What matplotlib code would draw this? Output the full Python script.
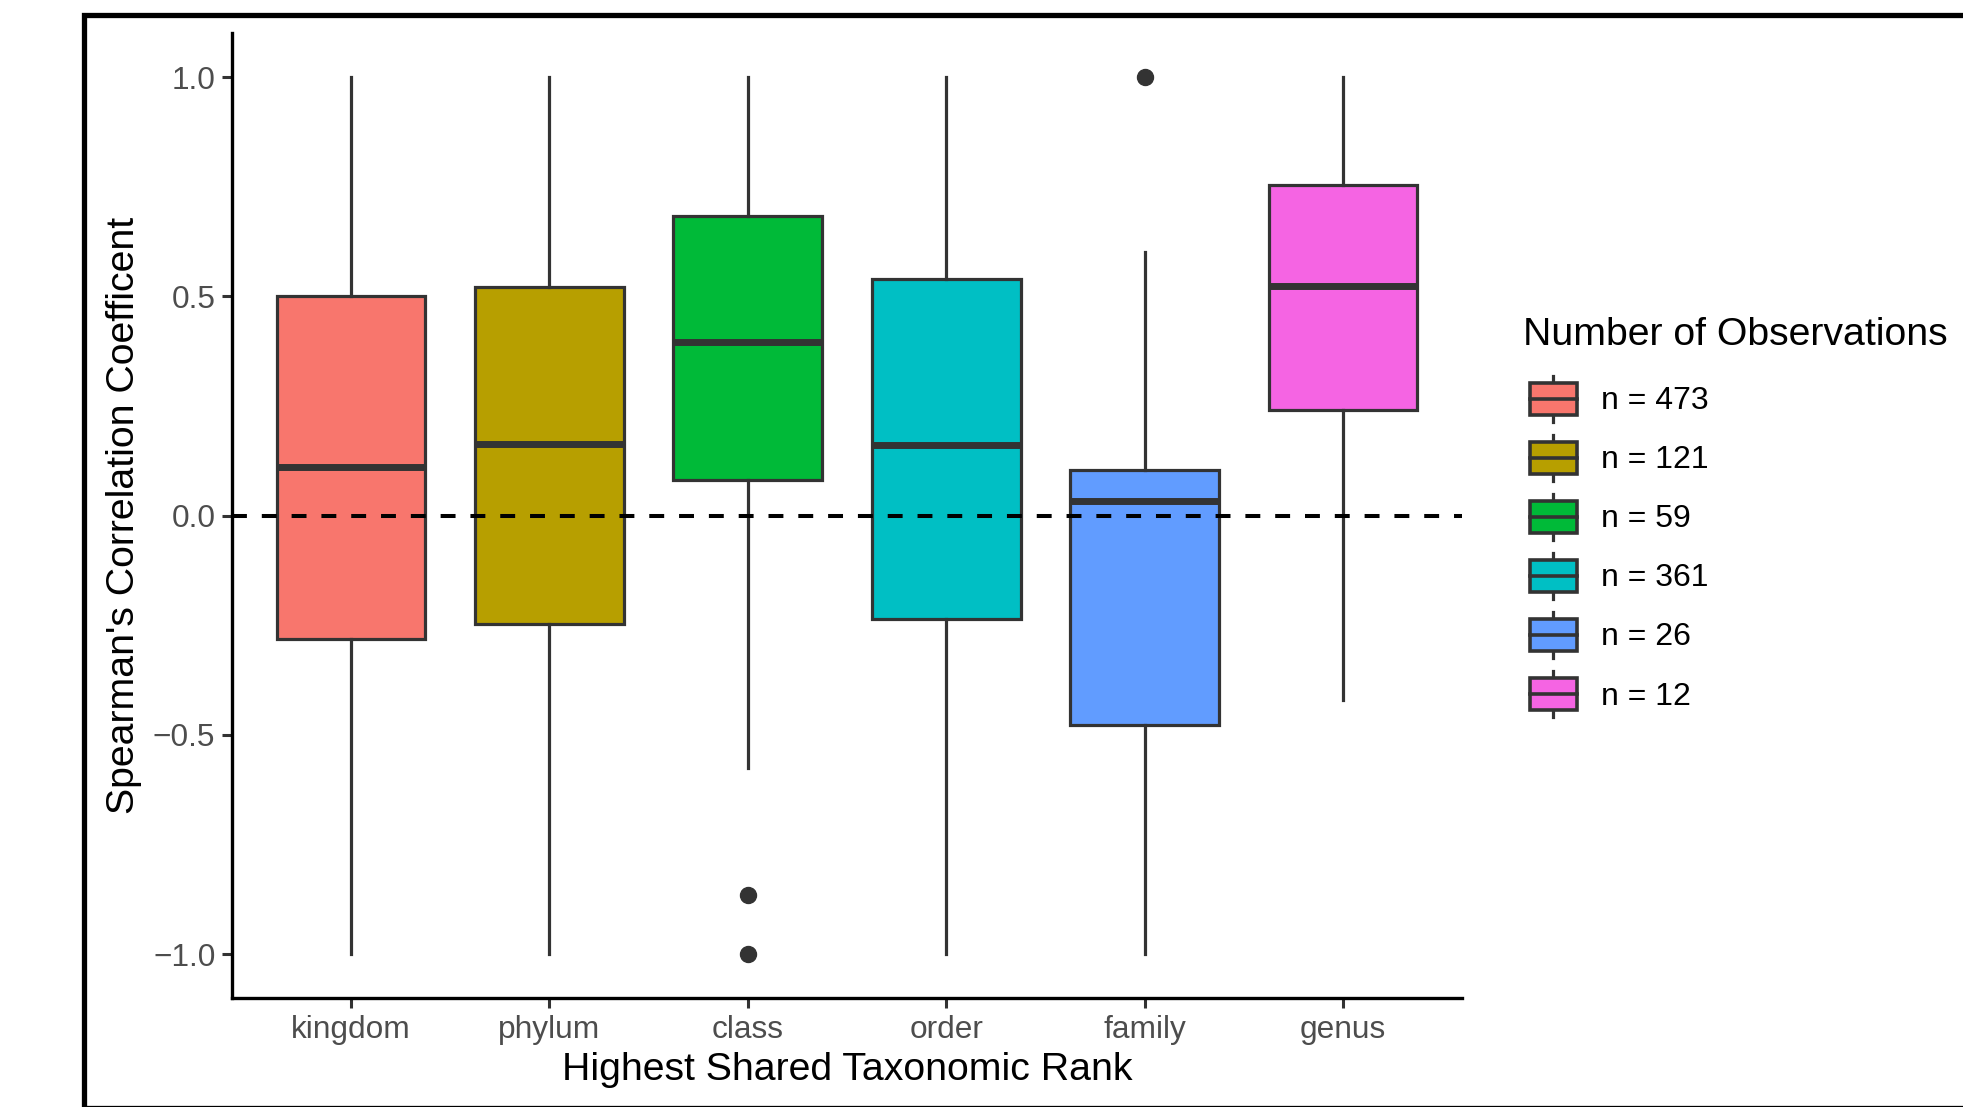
import matplotlib
matplotlib.use("Agg")
import matplotlib.pyplot as plt
from matplotlib.patches import Rectangle
from matplotlib.lines import Line2D
from matplotlib.legend_handler import HandlerBase

plt.rcParams['font.family'] = ['Liberation Sans', 'DejaVu Sans']

# values
ranks = ["kingdom", "phylum", "class", "order", "family", "genus"]
n_obs = [473, 121, 59, 361, 26, 12]
q1 = [-0.281, -0.247, 0.081, -0.235, -0.478, 0.241]
medians = [0.110, 0.164, 0.395, 0.161, 0.033, 0.524]
q3 = [0.500, 0.521, 0.683, 0.539, 0.104, 0.754]
whisk_lo = [-1.0, -1.0, -0.575, -1.0, -1.0, -0.421]
whisk_hi = [1.0, 1.0, 1.0, 1.0, 0.60, 1.0]
outliers = [[], [], [-0.866, -1.0], [], [1.0], []]

colors = ["#F8766D", "#B79F00", "#00BA38", "#00BFC4", "#619CFF", "#F564E3"]
edge = "#333333"

stats = []
for i in range(len(ranks)):
    stats.append({
        "label": ranks[i],
        "q1": q1[i], "med": medians[i], "q3": q3[i],
        "whislo": whisk_lo[i], "whishi": whisk_hi[i],
        "fliers": outliers[i],
    })

fig = plt.figure(figsize=(19.63, 11.07), dpi=100)
ax = fig.add_axes([0.1182, 0.0985, 0.6266, 0.8715])

positions = list(range(1, len(ranks) + 1))
bp = ax.bxp(stats, positions=positions, widths=0.75, patch_artist=True,
            showcaps=False,
            boxprops=dict(edgecolor=edge, linewidth=2.3),
            whiskerprops=dict(color=edge, linewidth=2.3),
            medianprops=dict(color=edge, linewidth=5),
            flierprops=dict(marker="o", markerfacecolor=edge, markeredgecolor=edge,
                            markersize=11.5))
for patch, c in zip(bp["boxes"], colors):
    patch.set_facecolor(c)

ax.axhline(0, color="black", linewidth=2.9, linestyle=(0, (3.7, 3.7)), zorder=5)

ax.set_xlim(0.4, 6.6)
ax.set_ylim(-1.1, 1.1)
ax.set_xticks(positions)
ax.set_xticklabels(ranks)
ax.set_yticks([-1.0, -0.5, 0.0, 0.5, 1.0])
ax.set_yticklabels(["\u22121.0", "\u22120.5", "0.0", "0.5", "1.0"])
ax.tick_params(axis="both", labelsize=22.8, labelcolor="#4D4D4D", color=edge,
               length=7, width=2.2, pad=5)
for side in ["top", "right"]:
    ax.spines[side].set_visible(False)
for side in ["left", "bottom"]:
    ax.spines[side].set_linewidth(2.4)
    ax.spines[side].set_color("black")

ax.set_xlabel("Highest Shared Taxonomic Rank", fontsize=28.3, labelpad=5)
ax.set_ylabel("Spearman's Correlation Coefficent", fontsize=28.3, labelpad=8)


class BoxHandler(HandlerBase):
    def __init__(self, color):
        super().__init__()
        self.color = color

    def create_artists(self, legend, orig_handle, xdescent, ydescent,
                       width, height, fontsize, trans):
        x0 = -xdescent + width * 0.13
        bw = width * 0.87
        cx = x0 + bw / 2
        bh = height * 0.70
        by = (height - bh) / 2 - ydescent
        rect = Rectangle((x0, by), bw, bh, facecolor=self.color,
                         edgecolor=edge, linewidth=2.6, transform=trans)
        med = Line2D([x0, x0 + bw], [by + bh / 2] * 2,
                     color=edge, linewidth=2.6, transform=trans)
        w1 = Line2D([cx, cx], [-ydescent, by], color=edge, linewidth=2.3,
                    transform=trans)
        w2 = Line2D([cx, cx], [by + bh, height - ydescent], color=edge,
                    linewidth=2.3, transform=trans)
        return [w1, w2, rect, med]


handles = [Rectangle((0, 0), 1, 1) for _ in ranks]
labels = ["n = %d" % n for n in n_obs]
handler_map = {h: BoxHandler(c) for h, c in zip(handles, colors)}
leg = fig.legend(handles, labels, handler_map=handler_map,
                 title="Number of Observations", loc="upper left",
                 bbox_to_anchor=(1510 / 1963, 1 - 304 / 1107), frameon=False,
                 fontsize=23, title_fontsize=28.3, handlelength=1.7,
                 handleheight=1.84, labelspacing=0.41, handletextpad=0.76,
                 borderaxespad=0, alignment="left")
# a little more room between the legend title and the keys
leg._legend_box.sep = leg._legend_box.sep + 7

# outer frame around the whole figure, running off the right edge
frame = Rectangle((83.5 / 1963, -0.5 / 1107), 1.2, (1107 - 14.5 + 0.5) / 1107,
                  transform=fig.transFigure, fill=False, edgecolor="black",
                  linewidth=3.8, clip_on=False)
fig.patches.append(frame)

fig.savefig("out.png", dpi=100)
